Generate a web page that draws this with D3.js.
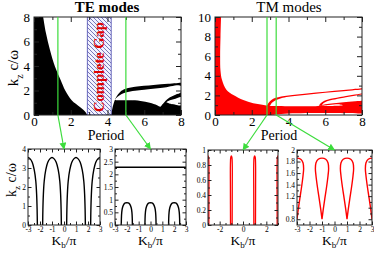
<!DOCTYPE html>
<html><head><meta charset="utf-8">
<script src="https://cdn.jsdelivr.net/npm/d3@7"></script>
<style>body{margin:0;background:#fff}svg{display:block}svg text{font-family:'Liberation Serif','Times New Roman',Times,serif}</style>
</head><body><svg id="c" width="374" height="255"></svg>
<script>
// ---------- data ----------
const periodTicks=[0,2,4,6,8], periodMinor=[1,3,5,7];
const teKTicks=[0,2,4,6,8], teKMinor=[1,3,5,7];
const tmKTicks=[0,2,4,6,8,10], tmKMinor=[1,3,5,7,9];
// TE (black) allowed region boundaries [period, kz c/w]
const teLeftEdge=[[0.5,8],[0.65,6.7],[0.87,5.3],[1.14,3.95],[1.45,2.85],[1.7,2.0],[2.05,1.2],[2.5,0.65],[2.8,0.25],[2.9,0]];
const teGap=[2.9,4.2];
const teOuterEdge=[[4.2,0],[4.3,0.75],[4.47,1.45],[4.7,1.9],[4.95,2.12],[5.5,2.3],[6.5,2.45],[7.3,2.55],[8,2.64]];
const teHole1=[[4.4,1.25],[4.55,1.5],[4.75,1.7],[5,1.84],[5.5,1.98],[6,2.07],[7,2.22],[8,2.37],[8,1.85],[7.7,1.66],[7.4,1.45],[7.15,1.15],[6.98,0.85],[6.88,0.68],[6.7,0.8],[6.3,1.0],[5.8,1.15],[5.2,1.2],[4.7,1.2],[4.47,1.2]];
const teHole2=[[7.2,1.05],[7.4,1.2],[7.7,1.33],[8,1.45],[8,0.8],[7.7,0.84],[7.4,0.92]];
const teCuts=[1.3,5.0];
// TM (red) allowed region boundaries
const tmLeftEdge=[[0.33,10],[0.3,8],[0.28,6],[0.3,4.5],[0.38,3.6],[0.63,2.55],[1.0,2.04],[1.54,1.53],[2.08,1.19],[2.72,1.0],[3.0,0.93]];
const tmBandTop=[[3.3,0.92],[4,0.9],[5,0.9],[5.6,0.92],[6,1.1],[7,1.3],[8,1.45]];
const tmBandBottom=[[8,0.15],[6,0.2],[4,0.15],[3.3,0.05],[3.0,0]];
const tmWedge=[[5.75,0.95],[6.2,1.03],[6.8,1.08],[6.95,1.0],[6.3,0.93]];
const tmCrescentOuter=[[2.82,0.9],[2.9,1.2],[3.05,1.5],[3.3,1.75],[3.6,1.9],[4,2.0],[5,2.2],[6,2.38],[7,2.55],[8,2.72]];
const tmCrescentInner=[[3.0,0.95],[3.1,1.25],[3.3,1.5],[3.6,1.7],[4,1.85],[5,2.07],[6,2.26],[7,2.43],[8,2.6]];
const tmLine2Outer=[[5.65,0.95],[5.75,1.2],[5.95,1.45],[6.3,1.65],[7,1.9],[8,2.2]];
const tmLine2Inner=[[5.8,0.95],[5.9,1.2],[6.1,1.4],[6.4,1.55],[7,1.77],[8,2.08]];
const tmCuts=[2.83,3.33];
// band diagrams kz vs Kb/pi
const kbTicks=[-3,-2,-1,0,1,2,3];
const p1KTicks=[0,1,2,3,4], p1Centers=[-3,-1,1,3];
const p1Arch=[[-0.78,0],[-0.76,0.8],[-0.72,1.6],[-0.65,2.3],[-0.52,2.9],[-0.35,3.3],[-0.18,3.48],[0,3.55],[0.18,3.48],[0.35,3.3],[0.52,2.9],[0.65,2.3],[0.72,1.6],[0.76,0.8],[0.78,0]];
const p2KTicks=[0,0.5,1,1.5,2,2.5,3], p2Flat=2.28, p2Centers=[-2,0,2];
const p2Arch=[[-0.47,0],[-0.46,0.25],[-0.43,0.5],[-0.37,0.68],[-0.25,0.82],[-0.12,0.87],[0,0.88],[0.12,0.87],[0.25,0.82],[0.37,0.68],[0.43,0.5],[0.46,0.25],[0.47,0]];
const p3KTicks=[0,0.2,0.4,0.6,0.8,1], p3Centers=[-3,-1,1,3];
const p3Loop=[[-0.07,0],[-0.08,0.5],[-0.08,0.8],[-0.05,0.9],[0,0.92],[0.05,0.9],[0.08,0.8],[0.08,0.5],[0.07,0]];
const p4KTicks=[0.8,1,1.2,1.4,1.6,1.8,2], p4Centers=[-3,-1,1,3];
const p4Loop=[[0,0.8],[0.1,0.97],[0.22,1.15],[0.36,1.35],[0.48,1.55],[0.53,1.68],[0.48,1.78],[0.3,1.84],[0,1.86],[-0.3,1.84],[-0.48,1.78],[-0.53,1.68],[-0.48,1.55],[-0.36,1.35],[-0.22,1.15],[-0.1,0.97],[0,0.8]];

// ---------- drawing ----------
const FONT="'Liberation Serif','Times New Roman',Times,serif";
const svg=d3.select("#c");
const defs=svg.append("defs");
const GREEN="#3cdc3c", RED="#ff0000";
const pat=defs.append("pattern").attr("id","hatch").attr("width",4).attr("height",4).attr("patternUnits","userSpaceOnUse");
pat.append("rect").attr("width",4).attr("height",4).attr("fill","#f2f2ff");
pat.append("path").attr("d","M-1,-1L5,5M-1,3L1,5M3,-1L5,1").attr("stroke","#5a5aa8").attr("stroke-width",0.8);
defs.append("marker").attr("id","arr").attr("viewBox","0 0 10 10").attr("refX",9).attr("refY",5)
  .attr("markerWidth",7).attr("markerHeight",7).attr("markerUnits","userSpaceOnUse").attr("orient","auto")
  .append("path").attr("d","M0,0L10,5L0,10z").attr("fill",GREEN);

let clipN=0;
function clip(x,y){const id="cl"+(clipN++);
  defs.append("clipPath").attr("id",id).append("rect").attr("x",x.range()[0]).attr("y",y.range()[1])
   .attr("width",x.range()[1]-x.range()[0]).attr("height",y.range()[0]-y.range()[1]);
  return "url(#"+id+")";}

function axes(x,y,o){
  const g=svg.append("g");
  const y0=y.range()[0], y1=y.range()[1], x0=x.range()[0], x1=x.range()[1];
  const fmt=d=>String(d);
  const st=s=>{s.attr("font-family",FONT);s.select(".domain").remove();s.selectAll("text").attr("font-size",o.fs).style("font-family",FONT).attr("fill","#000");s.selectAll("line").attr("stroke","#222");};
  g.append("g").attr("transform",`translate(0,${y0})`).call(d3.axisBottom(x).tickValues(o.xMaj).tickSize(-o.maj).tickPadding(o.xpad).tickFormat(fmt)).call(st);
  g.append("g").attr("transform",`translate(0,${y1})`).call(d3.axisTop(x).tickValues(o.xMaj).tickSize(-o.maj).tickFormat("")).call(st);
  g.append("g").attr("transform",`translate(${x0},0)`).call(d3.axisLeft(y).tickValues(o.yMaj).tickSize(-o.maj).tickPadding(o.ypad).tickFormat(fmt)).call(st);
  g.append("g").attr("transform",`translate(${x1},0)`).call(d3.axisRight(y).tickValues(o.yMaj).tickSize(-o.maj).tickFormat("")).call(st);
  if(o.xMin){
    g.append("g").attr("transform",`translate(0,${y0})`).call(d3.axisBottom(x).tickValues(o.xMin).tickSize(-o.min).tickFormat("")).call(st);
    g.append("g").attr("transform",`translate(0,${y1})`).call(d3.axisTop(x).tickValues(o.xMin).tickSize(-o.min).tickFormat("")).call(st);}
  if(o.yMin){
    g.append("g").attr("transform",`translate(${x0},0)`).call(d3.axisLeft(y).tickValues(o.yMin).tickSize(-o.min).tickFormat("")).call(st);
    g.append("g").attr("transform",`translate(${x1},0)`).call(d3.axisRight(y).tickValues(o.yMin).tickSize(-o.min).tickFormat("")).call(st);}
  g.append("rect").attr("x",x0).attr("y",y1).attr("width",x1-x0).attr("height",y0-y1).attr("fill","none").attr("stroke","#222").attr("stroke-width",1);
}
const smooth=(x,y)=>d3.line().x(d=>x(d[0])).y(d=>y(d[1])).curve(d3.curveCatmullRom.alpha(0.5));
const lin=(x,y)=>d3.line().x(d=>x(d[0])).y(d=>y(d[1]));
function txt(x,y,s,fs,extra){const t=svg.append("text").attr("x",x).attr("y",y).attr("text-anchor","middle").attr("font-size",fs).style("font-family",FONT).text(s);if(extra)extra(t);return t;}

// ===== TE panel =====
const xTE=d3.scaleLinear([0,8],[34,181]), yTE=d3.scaleLinear([0,8],[115,17]);
const gTE=svg.append("g").attr("clip-path",clip(xTE,yTE));
gTE.append("path").attr("d",lin(xTE,yTE)([[0,0],[0,8]])+smooth(xTE,yTE)(teLeftEdge).replace(/^M/,"L")+"Z").attr("fill","#000");
gTE.append("path").attr("d",smooth(xTE,yTE)(teOuterEdge)+lin(xTE,yTE)([[8,0]]).replace(/^M/,"L")+"Z").attr("fill","#000");
gTE.append("path").attr("d",smooth(xTE,yTE)(teHole1)+"Z").attr("fill","#fff");
gTE.append("path").attr("d",smooth(xTE,yTE)(teHole2)+"Z").attr("fill","#fff");
gTE.append("rect").attr("x",xTE(teGap[0])).attr("y",yTE(8)).attr("width",xTE(teGap[1])-xTE(teGap[0])).attr("height",yTE(0)-yTE(8))
  .attr("fill","url(#hatch)").attr("stroke","#4a4ab0").attr("stroke-width",0.8);
svg.append("text").attr("transform",`translate(${(xTE(teGap[0])+xTE(teGap[1]))/2+5},${yTE(4)+1}) rotate(-90)`)
  .attr("text-anchor","middle").attr("font-size",14.5).attr("font-weight","bold").style("font-family",FONT).attr("fill","#e00000").text("Complete Gap");
axes(xTE,yTE,{xMaj:periodTicks,xMin:periodMinor,yMaj:teKTicks,yMin:teKMinor,maj:5,min:3,fs:13,xpad:1.5,ypad:4});

// ===== TM panel =====
const xTM=d3.scaleLinear([0,8],[215,362]), yTM=d3.scaleLinear([0,10],[115,17]);
const gTM=svg.append("g").attr("clip-path",clip(xTM,yTM));
gTM.append("path").attr("d",lin(xTM,yTM)([[0,0],[0,10]])+smooth(xTM,yTM)(tmLeftEdge.concat(tmBandTop)).replace(/^M/,"L")+smooth(xTM,yTM)(tmBandBottom).replace(/^M/,"L")+"Z").attr("fill",RED);
gTM.append("path").attr("d",smooth(xTM,yTM)(tmWedge)+"Z").attr("fill","#fff");
gTM.append("path").attr("d",smooth(xTM,yTM)(tmCrescentOuter)+smooth(xTM,yTM)(tmCrescentInner.slice().reverse()).replace(/^M/,"L")+"Z").attr("fill",RED);
gTM.append("path").attr("d",smooth(xTM,yTM)(tmLine2Outer)+smooth(xTM,yTM)(tmLine2Inner.slice().reverse()).replace(/^M/,"L")+"Z").attr("fill",RED);
axes(xTM,yTM,{xMaj:periodTicks,xMin:periodMinor,yMaj:tmKTicks,yMin:tmKMinor,maj:5,min:3,fs:13,xpad:1.5,ypad:4});

// titles / labels
txt(107,12,"TE modes",15,t=>t.attr("font-weight","bold"));
txt(289,12,"TM modes",15);
txt(106,139.5,"Period",14);
txt(279,139.5,"Period",14);
function kzLabel(x,y,fs){
  const t=svg.append("text").attr("transform",`translate(${x},${y}) rotate(-90)`).attr("text-anchor","middle").attr("font-size",fs).style("font-family",FONT);
  t.append("tspan").text("k");
  t.append("tspan").attr("font-size",fs*0.65).attr("dy",fs*0.3).text("z");
  t.append("tspan").attr("dy",-fs*0.3).text(" c/ω");
}
kzLabel(18,68,15);
kzLabel(16,180,14);

// ===== small band panels =====
function kbLabel(x,y){
  const t=svg.append("text").attr("x",x).attr("y",y).attr("text-anchor","middle").attr("font-size",13.5).style("font-family",FONT);
  t.append("tspan").text("K");
  t.append("tspan").attr("font-size",9).attr("dy",3).text("b");
  t.append("tspan").attr("dy",-3).text("/π");
}
function minorOf(arr){const m=[];for(let i=0;i<arr.length-1;i++)m.push((arr[i]+arr[i+1])/2);return m;}
const panels=[
  {x:[28,100],y:[149,225],k:[0,4],yt:p1KTicks,xt:kbTicks},
  {x:[115,186],y:[149,225],k:[0,3],yt:p2KTicks,xt:kbTicks},
  {x:[208,278],y:[150,225],k:[0,1],yt:p3KTicks,xt:[-2,0,2]},
  {x:[297,372],y:[150,225],k:[0.7,2],yt:p4KTicks,xt:kbTicks}
];
const ps=panels.map(p=>{
  const x=d3.scaleLinear([-3,3],p.x), y=d3.scaleLinear(p.k,[p.y[1],p.y[0]]);
  return {x,y,p,g:svg.append("g").attr("clip-path",clip(x,y))};
});
{const {x,y,g}=ps[0];
 p1Centers.forEach(c=>g.append("path").attr("d",smooth(x,y)(p1Arch.map(d=>[c+d[0],d[1]]))).attr("fill","none").attr("stroke","#000").attr("stroke-width",1.4));}
{const {x,y,g}=ps[1];
 g.append("path").attr("d",lin(x,y)([[-3,p2Flat],[3,p2Flat]])).attr("stroke","#000").attr("stroke-width",1.4);
 p2Centers.forEach(c=>g.append("path").attr("d",smooth(x,y)(p2Arch.map(d=>[c+d[0],d[1]]))).attr("fill","none").attr("stroke","#000").attr("stroke-width",1.4));}
{const {x,y,g}=ps[2];
 p3Centers.forEach(c=>g.append("path").attr("d",smooth(x,y)(p3Loop.map(d=>[c+d[0],d[1]]))).attr("fill","none").attr("stroke",RED).attr("stroke-width",1.3));}
{const {x,y,g}=ps[3];
 p4Centers.forEach(c=>g.append("path").attr("d",smooth(x,y)(p4Loop.map(d=>[c+d[0],d[1]]))).attr("fill","none").attr("stroke",RED).attr("stroke-width",1.4));}
ps.forEach(({x,y,p})=>{
  axes(x,y,{xMaj:p.xt,xMin:[-2.5,-1.5,-0.5,0.5,1.5,2.5].concat(p.xt.length<5?[-3,-1,1,3]:[]),yMaj:p.yt,yMin:minorOf(p.yt),maj:3.5,min:2,fs:7.5,xpad:1.5,ypad:2});
  kbLabel((p.x[0]+p.x[1])/2,245);
});

// ===== green cut lines and arrows =====
const targets=[[ps[0].x(0),149],[ps[1].x(0),149],[ps[2].x(0),150],[ps[3].x(0),150]];
const cuts=[[xTE,yTE,teCuts[0],8],[xTE,yTE,teCuts[1],8],[xTM,yTM,tmCuts[0],10],[xTM,yTM,tmCuts[1],10]];
cuts.forEach(([x,y,v,top],i)=>{
  svg.append("line").attr("x1",x(v)).attr("x2",x(v)).attr("y1",y(top)).attr("y2",y(0)).attr("stroke",GREEN).attr("stroke-width",1.2);
  svg.append("line").attr("x1",x(v)).attr("y1",y(0)).attr("x2",targets[i][0]).attr("y2",targets[i][1]).attr("stroke",GREEN).attr("stroke-width",1.2).attr("marker-end","url(#arr)");
});
</script></body></html>
